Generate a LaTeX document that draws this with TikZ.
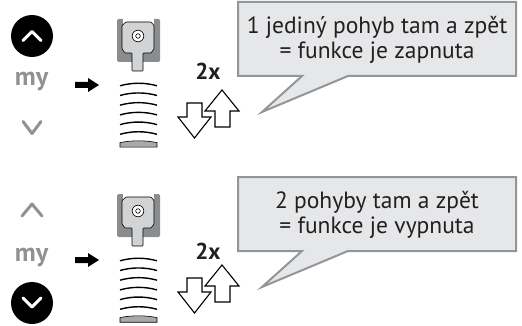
\documentclass[tikz,border=0pt]{standalone}
\usepackage{fontspec}
\setmainfont{PT Sans}
\definecolor{keygrey}{HTML}{8F9195}
\definecolor{bracketgrey}{HTML}{8A8C8E}
\definecolor{headfill}{HTML}{D1D3D4}
\definecolor{barfill}{HTML}{A7A9AC}
\definecolor{bubblefill}{HTML}{E6E7E8}
\definecolor{bubbleline}{HTML}{939598}
\definecolor{ink}{HTML}{231F20}
\begin{document}
\begin{tikzpicture}[x=1pt,y=-1pt,
  keydisc/.style={fill=black},
  chevron/.style={line width=3pt,line cap=round,line join=round},
  mylabel/.style={font=\bfseries\fontsize{26}{26}\selectfont,text=keygrey,inner sep=0pt},
  countlabel/.style={font=\bfseries\fontsize{23}{23}\selectfont,text=ink,inner sep=0pt},
  bubble/.style={fill=bubblefill,draw=bubbleline,line width=2pt,line join=miter},
  bubbletext/.style={font=\fontsize{23.5}{24.5}\selectfont,text=ink,align=center,inner sep=0pt},
  hollowarrow/.style={draw=black,fill=white,line width=1.1pt,line join=miter},
  springline/.style={draw=black,line width=1.4pt},
  motor/.pic={
    % mounting bracket
    \fill[bracketgrey,rounded corners=1.5pt] (117,19) rectangle (160,62);
    \fill[white] (123,18) rectangle (154,25);
    % motor head with stem
    \filldraw[fill=headfill,draw=black,line width=0.6pt,rounded corners=0.8pt]
      (126,22) -- (151,22) -- (154,25.5) -- (154,49) -- (151,53) -- (143,53)
      -- (143,71) -- (132,71) -- (132,53) -- (125,53) -- (122,49) -- (122,25.5) -- cycle;
    \draw[line width=0.6pt,fill=white] (138,36) circle (5.8);
    \draw[line width=0.6pt] (138,36) circle (2.3);
    % rolled-up slats
    \foreach \s in {84,93.7,103.4,113.1,122.8,132.5}
      \draw[springline] (120,\s+1.8) .. controls (132,\s-1.6) and (145,\s-1.6) .. (157,\s+1.8);
    % bottom bar
    \filldraw[fill=barfill,draw=black,line width=0.6pt]
      (120,142.6) .. controls (132,140.2) and (145,140.2) .. (157,142.6)
      -- (157,147.2) -- (120,147.2) -- cycle;
  },
  pusharrow/.pic={
    \fill (75,82) -- (88,82) -- (88,78) -- (99,85) -- (88,92) -- (88,88) -- (75,88) -- cycle;
  },
  updown/.pic={
    \filldraw[hollowarrow] (187,103) -- (202,103) -- (202,117) -- (211,117)
      -- (194.5,138) -- (178,117) -- (187,117) -- cycle;
    \filldraw[hollowarrow] (222,90) -- (239,111) -- (230,111) -- (230,127)
      -- (215,127) -- (215,111) -- (205,111) -- cycle;
  },
  speech/.pic={
    \filldraw[bubble] (238,2) -- (516,2) -- (516,76) -- (348,76) -- (262,112)
      -- (302,76) -- (238,76) -- cycle;
  }
]
\useasboundingbox (0,0) rectangle (522,326);

% ---- first row: function switched on ----
\fill[keydisc] (32,36) circle (21);
\draw[chevron,white] (23,40.5) -- (32,31.5) -- (41,40.5);
\node[mylabel] (my1) at (31.5,81) {my};
\draw[chevron,keygrey] (23,121.5) -- (32,133.5) -- (41,121.5);
\pic {pusharrow};
\pic {motor};
\node[countlabel] (cnt1) at (208,71.5) {2x};
\pic {updown};
\pic {speech};
\node[bubbletext] (txt1) at (377,40) {1 jediný pohyb tam a zpět\\= funkce je zapnuta};

% ---- second row: function switched off ----
\begin{scope}[yshift=-175pt]
\pic {pusharrow};
\pic {motor};
\pic {updown};
\pic {speech};
\end{scope}
\draw[chevron,keygrey] (22,216) -- (32,204) -- (42,216);
\node[mylabel] (my2) at (31.5,257) {my};
\fill[keydisc] (32,303) circle (21);
\draw[chevron,white] (23,298) -- (32,307) -- (41,298);
\node[countlabel] (cnt2) at (208,251) {2x};
\node[bubbletext] (txt2) at (377,215) {2 pohyby tam a zpět\\= funkce je vypnuta};
\end{tikzpicture}
\end{document}
